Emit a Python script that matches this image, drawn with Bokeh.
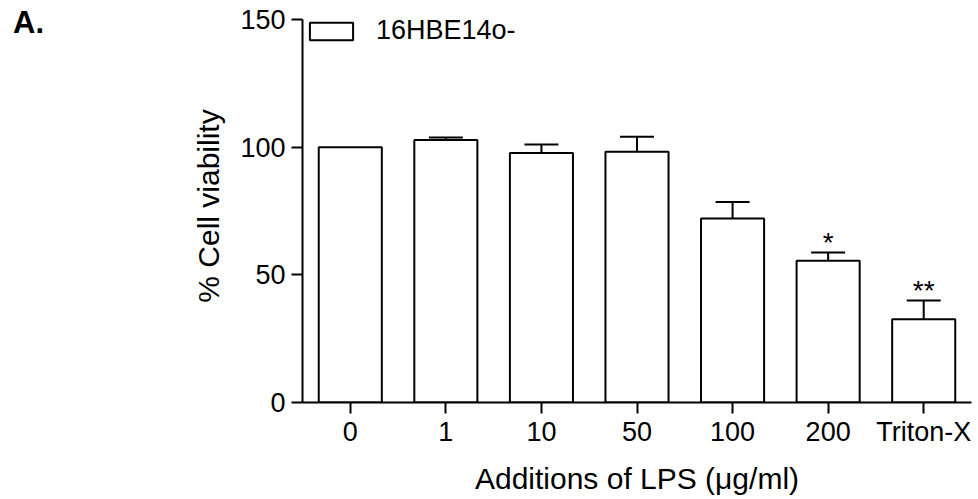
from bokeh.plotting import figure
from bokeh.models import (ColumnDataSource, Range1d, FactorRange, FixedTicker, Whisker,
                          TeeHead, Legend, LegendItem, Div)
from bokeh.layouts import row
from bokeh.core.properties import value
from bokeh.embed import file_html
from bokeh.resources import INLINE

# ---- data ----
categories = ["0", "1", "10", "50", "100", "200", "Triton-X"]
viability = [100.0, 102.9, 97.8, 98.3, 72.1, 55.5, 32.6]
sem = [0.0, 0.9, 3.3, 5.8, 6.5, 3.3, 7.4]
significance = ["", "", "", "", "", "*", "**"]
y_ticks = [0, 50, 100, 150]
series_name = "16HBE14o-"
panel_letter = "A."

FONT = "Liberation Sans"
DIV_W = 60

src = ColumnDataSource(dict(cat=categories, val=viability))
idx = [i for i, e in enumerate(sem) if e > 0]
err_src = ColumnDataSource(dict(cat=[categories[i] for i in idx],
                                val=[viability[i] for i in idx],
                                up=[viability[i] + sem[i] for i in idx]))
sig_idx = [i for i, s in enumerate(significance) if s]
sig_src = ColumnDataSource(dict(cat=[categories[i] for i in sig_idx],
                                up=[viability[i] + sem[i] for i in sig_idx],
                                sig=[significance[i] for i in sig_idx]))

p = figure(width=978 - DIV_W, height=499, x_range=FactorRange(*categories),
           y_range=Range1d(0, 154), output_backend="svg", toolbar_location=None,
           min_border_left=302 - DIV_W, min_border_right=7, min_border_top=9,
           min_border_bottom=97)
p.outline_line_color = None
p.grid.grid_line_color = None
p.x_range.range_padding = 0

bars = p.vbar(x="cat", top="val", width=0.66, source=src, fill_color="white",
              line_color="black", line_width=2)

wh = Whisker(base="cat", lower="val", upper="up", source=err_src,
             line_color="black", line_width=2,
             upper_head=TeeHead(size=34, line_color="black", line_width=2),
             lower_head=None)
p.add_layout(wh)

p.text(x="cat", y="up", text="sig", source=sig_src, text_align="center",
       text_baseline="alphabetic", text_font=value(FONT), text_font_size="28px",
       text_color="black", y_offset=-10)

# axes
for ax in (p.xaxis[0], p.yaxis[0]):
    ax.axis_line_width = 2
    ax.axis_line_color = "black"
    ax.major_tick_line_width = 2
    ax.major_tick_line_color = "black"
    ax.major_tick_out = 11
    ax.major_tick_in = 0
    ax.minor_tick_line_color = None
    ax.major_label_text_font = FONT
    ax.major_label_text_font_size = "27px"
    ax.major_label_text_color = "black"
    ax.axis_label_text_font = FONT
    ax.axis_label_text_font_size = "30px"
    ax.axis_label_text_font_style = "normal"
    ax.axis_label_text_color = "black"

p.yaxis[0].ticker = FixedTicker(ticks=y_ticks)
p.yaxis[0].bounds = (y_ticks[0], y_ticks[-1])
p.yaxis[0].major_label_standoff = 6
p.yaxis[0].axis_label = "% Cell viability"
p.yaxis[0].axis_label_standoff = 12
p.xaxis[0].major_label_standoff = 3
p.xaxis[0].axis_label = "Additions of LPS (\u03bcg/ml)"
p.xaxis[0].axis_label_standoff = 12

legend = Legend(items=[LegendItem(label=series_name, renderers=[bars])],
                location=(2, 356), padding=0, margin=0, border_line_color=None,
                background_fill_alpha=0, glyph_width=54, glyph_height=22,
                label_standoff=18, label_text_font=FONT, label_text_font_size="27px",
                label_text_color="black", label_height=30)
p.add_layout(legend, "center")

letter = Div(text=f'<span style="font-family:\'{FONT}\';font-size:31px;font-weight:bold;'
                  f'color:black;line-height:36px;">{panel_letter}</span>',
             width=DIV_W, height=60, margin=(0, 0, 0, 0),
             styles={"padding-left": "13px", "padding-top": "5px"})

layout = row(letter, p, spacing=0, margin=(0, 0, 0, 0))

open("out.html", "w").write(file_html(layout, INLINE))
